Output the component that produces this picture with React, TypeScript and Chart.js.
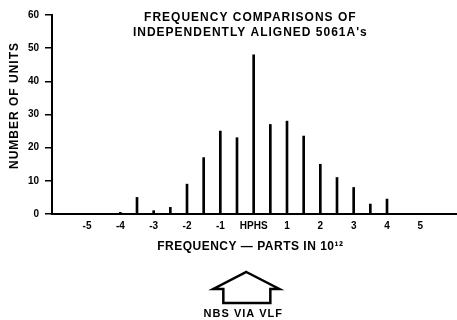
import React, { useEffect, useRef } from 'react';
import { Chart, registerables } from 'chart.js';

Chart.register(...registerables);

// Frequency offset (parts in 10^12) and number of units
const offsets = [-4, -3.5, -3, -2.5, -2, -1.5, -1, -0.5, 0, 0.5, 1, 1.5, 2, 2.5, 3, 3.5, 4];
const units = [0.5, 5, 1, 2, 9, 17, 25, 23, 48, 27, 28, 23.5, 15, 11, 8, 3, 4.5];

const xTickValues = [-5, -4, -3, -2, -1, 0, 1, 2, 3, 4, 5];
const xTickLabels = ['-5', '-4', '-3', '-2', '-1', 'HPHS', '1', '2', '3', '4', '5'];
const yTickValues = [0, 10, 20, 30, 40, 50, 60];

const titleLines = ['FREQUENCY COMPARISONS OF', "INDEPENDENTLY ALIGNED 5061A's"];
const yTitle = 'NUMBER OF UNITS';
const xTitle = 'FREQUENCY — PARTS IN 10¹²';
const footnote = 'NBS VIA VLF';

const FONT = '"Liberation Sans", Arial, Helvetica, sans-serif';

const annotations = {
  id: 'annotations',
  afterDraw(chart: any) {
    const ctx = chart.ctx as CanvasRenderingContext2D;
    const xs = chart.scales.x;
    const a = chart.chartArea;
    ctx.save();
    ctx.fillStyle = '#000';
    ctx.strokeStyle = '#000';
    ctx.textAlign = 'center';
    ctx.textBaseline = 'middle';
    (ctx as any).letterSpacing = '1px';
    ctx.font = `bold 12px ${FONT}`;
    const tcx = xs.getPixelForValue(-0.1);
    ctx.fillText(titleLines[0], tcx, a.top + 3);
    ctx.fillText(titleLines[1], tcx, a.top + 18);

    // y title
    ctx.save();
    ctx.translate(15, (a.top + a.bottom) / 2 - 9);
    ctx.rotate(-Math.PI / 2);
    ctx.fillText(yTitle, 0, 0);
    ctx.restore();

    // x title
    (ctx as any).letterSpacing = '0.5px';
    ctx.fillText(xTitle, xs.getPixelForValue(-0.1), a.bottom + 33);

    // arrow
    const ax = xs.getPixelForValue(-0.22);
    const top = a.bottom + 58;
    ctx.lineWidth = 2.5;
    ctx.lineJoin = 'miter';
    ctx.beginPath();
    ctx.moveTo(ax, top);
    ctx.lineTo(ax + 33, top + 17);
    ctx.lineTo(ax + 24, top + 17);
    ctx.lineTo(ax + 24, top + 31);
    ctx.lineTo(ax - 23, top + 31);
    ctx.lineTo(ax - 23, top + 17);
    ctx.lineTo(ax - 33, top + 17);
    ctx.closePath();
    ctx.stroke();

    // footnote
    ctx.font = `bold 11px ${FONT}`;
    (ctx as any).letterSpacing = '1px';
    ctx.fillText(footnote, ax - 3, a.bottom + 100);
    ctx.restore();
  },
};

export default function App() {
  const ref = useRef<HTMLCanvasElement>(null);
  useEffect(() => {
    document.body.style.margin = '0';
    if (!ref.current) return;
    const chart = new Chart(ref.current, {
      type: 'bar',
      data: {
        datasets: [
          {
            data: offsets.map((x, i) => ({ x, y: units[i] })),
            backgroundColor: '#000',
            borderWidth: 0,
            barThickness: 2,
          },
        ],
      },
      options: {
        animation: false,
        responsive: false,
        devicePixelRatio: 1,
        layout: { padding: { top: 15, right: 0, left: 0, bottom: 0 } },
        plugins: { legend: { display: false }, tooltip: { enabled: false }, title: { display: false } },
        scales: {
          x: {
            type: 'linear',
            offset: false,
            min: -6.05,
            max: 6.1,
            grid: { display: false, drawTicks: false, offset: false },
            border: { display: true, color: '#000', width: 2 },
            afterBuildTicks: (scale: any) => {
              scale.ticks = xTickValues.map((v) => ({ value: v }));
            },
            afterFit: (scale: any) => {
              scale.height = 106;
            },
            ticks: {
              autoSkip: false,
              maxRotation: 0,
              padding: 6,
              color: '#000',
              font: { family: FONT, size: 10, weight: 'bold' },
              callback: (v: any) => {
                const i = xTickValues.indexOf(Number(v));
                return i >= 0 ? xTickLabels[i] : '';
              },
            },
          },
          y: {
            min: 0,
            max: 60,
            afterBuildTicks: (scale: any) => {
              scale.ticks = yTickValues.map((v) => ({ value: v }));
            },
            afterFit: (scale: any) => {
              scale.width = 52;
            },
            grid: { drawOnChartArea: false, drawTicks: true, tickLength: 7, color: '#000', lineWidth: 1.5 },
            border: { display: true, color: '#000', width: 2 },
            ticks: {
              padding: 6,
              color: '#000',
              font: { family: FONT, size: 10, weight: 'bold' },
            },
          },
        },
      } as any,
      plugins: [annotations],
    });
    return () => chart.destroy();
  }, []);
  return (
    <div style={{ width: 457, height: 320 }}>
      <canvas ref={ref} width={457} height={320} style={{ display: 'block' }} />
    </div>
  );
}
